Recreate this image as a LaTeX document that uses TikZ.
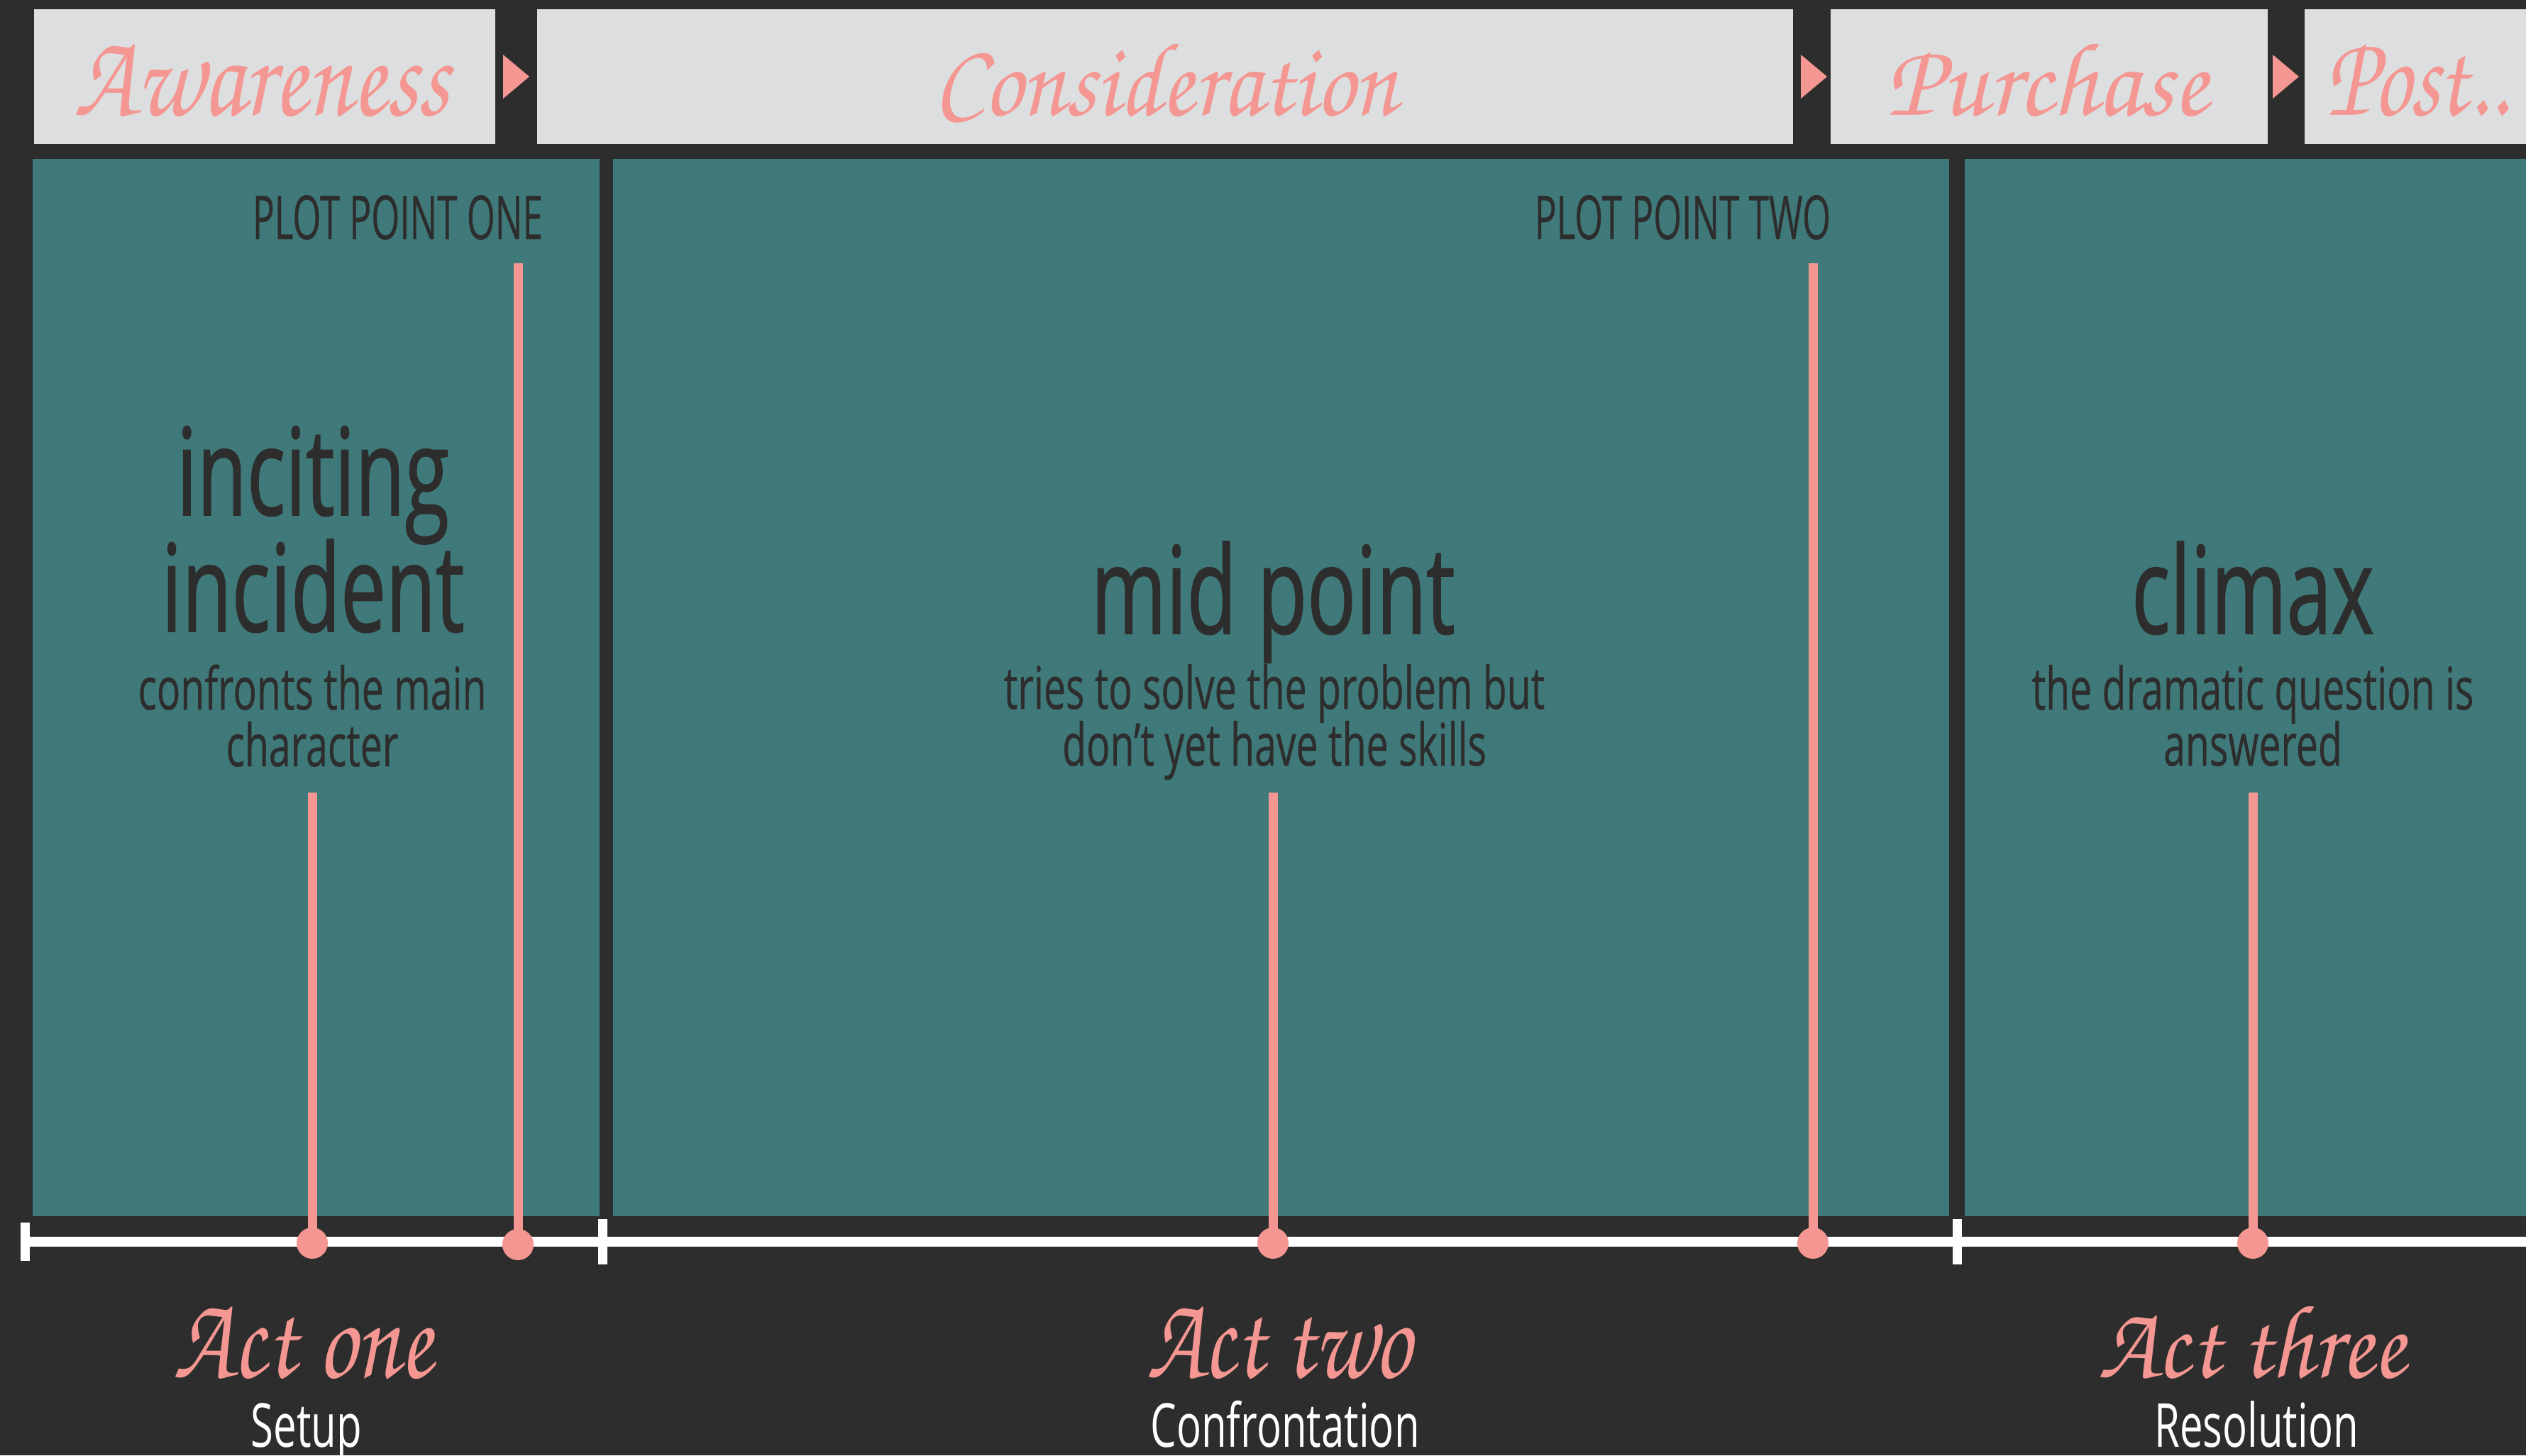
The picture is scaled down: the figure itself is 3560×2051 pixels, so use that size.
\documentclass[tikz,border=0pt]{standalone}
\usepackage{fontspec}
\usepackage{graphicx}
\newfontfamily\bigsans[FakeStretch=0.667,FakeBold=0.9]{Open Sans}
\newfontfamily\smallsans[FakeStretch=0.667,FakeBold=0.4]{Open Sans}
\newfontfamily\capsans[FakeStretch=0.6,FakeBold=0.3]{Open Sans}
\newfontfamily\subsans[FakeStretch=0.68]{Open Sans}
\newfontfamily\scrfont{texgyrechorus-mediumitalic.otf}
\definecolor{bgdark}{HTML}{2D2D2D}
\definecolor{hdrgrey}{HTML}{DDDEDF}
\definecolor{pinkc}{HTML}{F49691}
\definecolor{tealc}{HTML}{407979}
\begin{document}
\begin{tikzpicture}[x=0.01cm,y=-0.01cm,
  txt/.style={inner sep=0pt, outer sep=0pt, anchor=base, text=bgdark},
  bigtxt/.style={txt, font=\bigsans\fontsize{48.7pt}{48pt}\selectfont},
  smalltxt/.style={txt, font=\smallsans\fontsize{23.6pt}{23pt}\selectfont},
  captxt/.style={txt, anchor=base east, font=\capsans\fontsize{24.3pt}{24pt}\selectfont},
  subtxt/.style={txt, text=white, font=\subsans\fontsize{24.3pt}{24pt}\selectfont},
  scrtxt/.style={txt, text=pinkc},
  hdrbox/.style={fill=hdrgrey},
  panel/.style={fill=tealc},
  arrowtri/.style={fill=pinkc},
  pinkline/.style={draw=pinkc, line width=0.13cm},
  dotnode/.style={circle, fill=pinkc, minimum size=0.44cm, inner sep=0pt},
  tick/.style={fill=white}
]
% background and bounds
\fill[bgdark] (0,0) rectangle (3560,2051);
\useasboundingbox (0,0) rectangle (3560,2051);

% header boxes
\fill[hdrbox] (48,13) rectangle (698,203);
\fill[hdrbox] (757,13) rectangle (2527,203);
\fill[hdrbox] (2580,13) rectangle (3196,203);
\fill[hdrbox] (3248,13) rectangle (3560,203);

% header arrows
\fill[arrowtri] (709,77) -- (746,108) -- (709,139) -- cycle;
\fill[arrowtri] (2538,77) -- (2575,108) -- (2538,139) -- cycle;
\fill[arrowtri] (3203,77) -- (3240,108) -- (3203,139) -- cycle;

% header labels
\node[scrtxt] (hAware) at (369,162) {\resizebox{5.28cm}{1.00cm}{\scrfont Awareness}};
\node[scrtxt] (hConsid) at (1643,162) {\resizebox{6.53cm}{1.00cm}{\scrfont Consideration}};
\node[scrtxt] (hPurch) at (2885,162) {\resizebox{4.53cm}{1.00cm}{\scrfont Purchase}};
\node[scrtxt] (hPost) at (3407,162) {\resizebox{2.56cm}{1.00cm}{\scrfont Post..}};

% teal panels
\fill[panel] (46,224) rectangle (845,1714);
\fill[panel] (864,224) rectangle (2747,1714);
\fill[panel] (2769,224) rectangle (3560,1714);

% timeline
\coordinate (tlStart) at (35,1750);
\coordinate (tlEnd) at (3560,1750);
\draw[white, line width=0.14cm] (tlStart) -- (tlEnd);
\fill[tick] (29,1723) rectangle (42,1777);
\fill[tick] (843,1718) rectangle (856,1782);
\fill[tick] (2752,1718) rectangle (2765,1782);

% pink markers
\coordinate (topA) at (440,1117);
\coordinate (topB) at (730,371);
\coordinate (topC) at (1794,1117);
\coordinate (topD) at (2555,371);
\coordinate (topE) at (3175,1117);
\node[dotnode] (dotA) at (440,1752) {};
\node[dotnode] (dotB) at (730,1754) {};
\node[dotnode] (dotC) at (1794,1752) {};
\node[dotnode] (dotD) at (2555,1752) {};
\node[dotnode] (dotE) at (3175,1752) {};
\draw[pinkline] (topA) -- (dotA.center);
\draw[pinkline] (topB) -- (dotB.center);
\draw[pinkline] (topC) -- (dotC.center);
\draw[pinkline] (topD) -- (dotD.center);
\draw[pinkline] (topE) -- (dotE.center);

% plot point labels
\node[captxt] (pp1) at (765,337) {PLOT POINT ONE};
\node[captxt] (pp2) at (2580,337) {PLOT POINT TWO};

% act one content
\node[bigtxt] (incA) at (441,726) {inciting};
\node[bigtxt] (incB) at (441,890) {incident};
\node[smalltxt] (incC) at (440,1000) {confronts the main};
\node[smalltxt] (incD) at (440,1080) {character};

% act two content
\node[bigtxt] (midA) at (1794,893) {mid point};
\node[smalltxt] (midB) at (1796,999) {tries to solve the problem but};
\node[smalltxt] (midC) at (1796,1079) {don’t yet have the skills};

% act three content
\node[bigtxt] (climA) at (3175,893) {climax};
\node[smalltxt] (climB) at (3175,1000) {the dramatic question is};
\node[smalltxt] (climC) at (3175,1079) {answered};

% act labels
\node[scrtxt] (act1) at (427,1941) {\resizebox{3.64cm}{1.00cm}{\scrfont Act one}};
\node[scrtxt] (act2) at (1802,1941) {\resizebox{3.71cm}{1.00cm}{\scrfont Act two}};
\node[scrtxt] (act3) at (3174,1941) {\resizebox{4.32cm}{1.00cm}{\scrfont Act three}};
\node[subtxt] (sub1) at (432,2039) {Setup};
\node[subtxt] (sub2) at (1811,2039) {Confrontation};
\node[subtxt] (sub3) at (3180,2039) {Resolution};
\end{tikzpicture}
\end{document}
